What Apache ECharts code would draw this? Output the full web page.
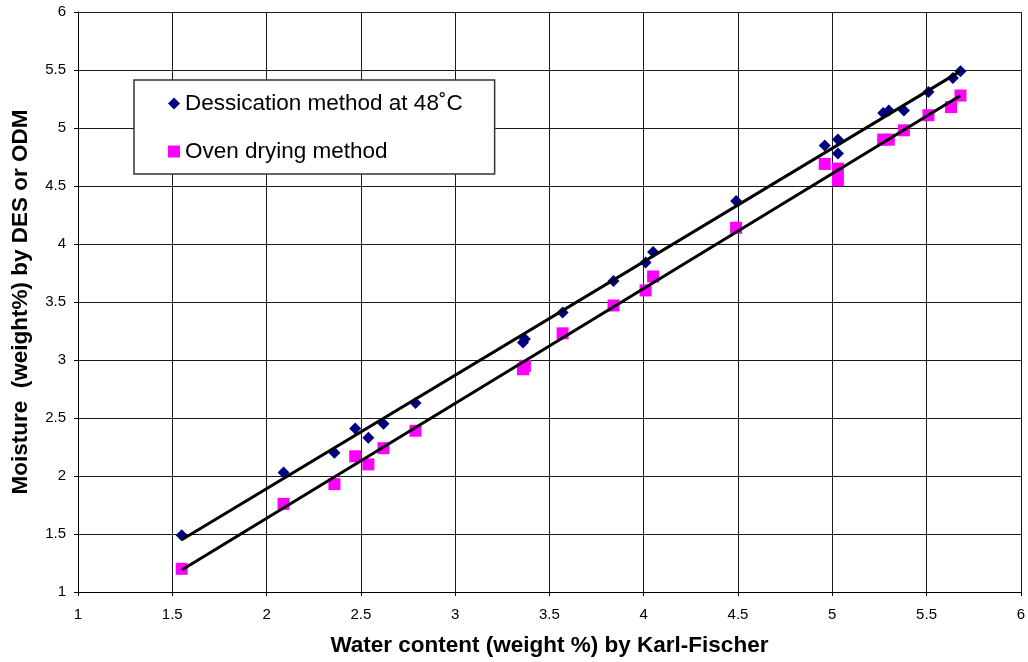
<!DOCTYPE html>
<html>
<head>
<meta charset="utf-8">
<script src="https://cdn.jsdelivr.net/npm/echarts@6/dist/echarts.min.js"></script>
<style>
  html, body { margin: 0; padding: 0; background: #fff; }
  #chart { width: 1028px; height: 662px; }
</style>
</head>
<body>
<div id="chart"></div>
<script>
// Dessication method at 48˚C (DES)
const desX = [1.55, 2.09, 2.36, 2.47, 2.54, 2.62, 2.79, 3.36, 3.37, 3.57, 3.84, 4.01, 4.05, 4.49, 4.96, 5.03, 5.03, 5.27, 5.30, 5.38, 5.51, 5.64, 5.68]
const desY = [1.49, 2.03, 2.20, 2.41, 2.33, 2.45, 2.63, 3.15, 3.18, 3.41, 3.68, 3.84, 3.93, 4.37, 4.85, 4.90, 4.78, 5.13, 5.15, 5.15, 5.31, 5.43, 5.49]
// Oven drying method (ODM)
const odmX = [1.55, 2.09, 2.36, 2.47, 2.54, 2.62, 2.79, 3.36, 3.37, 3.57, 3.84, 4.01, 4.05, 4.49, 4.96, 5.03, 5.03, 5.27, 5.30, 5.38, 5.51, 5.63, 5.68]
const odmY = [1.20, 1.76, 1.93, 2.17, 2.10, 2.24, 2.39, 2.92, 2.95, 3.23, 3.47, 3.60, 3.72, 4.14, 4.69, 4.65, 4.55, 4.90, 4.90, 4.98, 5.11, 5.18, 5.28]
// trend lines (end points)
const desFitX = [1.55, 5.68]
const desFitY = [1.45, 5.49]
const odmFitX = [1.55, 5.68]
const odmFitY = [1.19, 5.28]

const legendNames = ['Dessication method at 48˚C', 'Oven drying method']

function pairs(xs, ys) {
  return xs.map((x, i) => [x, ys[i]])
}

const font = 'Liberation Sans, Arial, sans-serif'

const axisCommon = {
  type: 'value',
  min: 1,
  max: 6,
  interval: 0.5,
  nameLocation: 'middle',
  nameTextStyle: { fontFamily: font, fontSize: 22.5, fontWeight: 'bold', color: '#000' },
  axisLine: { show: true, onZero: false, lineStyle: { color: '#000', width: 1 } },
  axisTick: { show: true, inside: false, length: 4, lineStyle: { color: '#000' } },
  axisLabel: { fontFamily: font, fontSize: 15, color: '#000', margin: 12 },
  splitLine: { show: true, lineStyle: { color: '#1a1a1a', width: 1 } }
}

const option = {
  animation: false,
  backgroundColor: '#fff',
  grid: { left: 78, right: 7, top: 12, bottom: 70 },
  xAxis: Object.assign({}, axisCommon, {
    name: 'Water content (weight %) by Karl-Fischer',
    nameGap: 42,
    axisLabel: { fontFamily: font, fontSize: 15, color: '#000', margin: 15 }
  }),
  yAxis: Object.assign({}, axisCommon, {
    name: 'Moisture  (weight%) by DES or ODM',
    nameGap: 46
  }),
  legend: {
    data: legendNames,
    orient: 'vertical',
    left: 134,
    top: 80,
    padding: [12, 32, 11, 34],
    itemGap: 25,
    itemWidth: 12,
    itemHeight: 12,
    backgroundColor: '#fff',
    borderColor: '#333',
    borderWidth: 1.5,
    borderRadius: 0,
    textStyle: { fontFamily: font, fontSize: 22.5, color: '#000' }
  },
  series: [
    {
      name: 'desFit',
      type: 'line',
      data: pairs(desFitX, desFitY),
      symbol: 'none',
      lineStyle: { color: '#000', width: 3 },
      z: 3
    },
    {
      name: 'odmFit',
      type: 'line',
      data: pairs(odmFitX, odmFitY),
      symbol: 'none',
      lineStyle: { color: '#000', width: 3 },
      z: 3
    },
    {
      name: legendNames[0],
      type: 'scatter',
      symbol: 'diamond',
      symbolSize: 12,
      data: pairs(desX, desY),
      itemStyle: { color: '#000080', opacity: 1 },
      z: 2
    },
    {
      name: legendNames[1],
      type: 'scatter',
      symbol: 'rect',
      symbolSize: 12,
      data: pairs(odmX, odmY),
      itemStyle: { color: '#ff00ff', opacity: 1 },
      z: 2
    }
  ]
}

echarts.init(document.getElementById('chart')).setOption(option)
</script>
</body>
</html>
